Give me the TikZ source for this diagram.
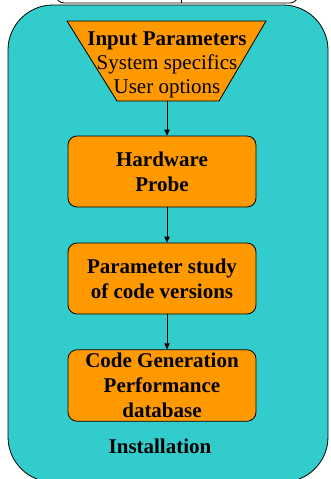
\documentclass[tikz,border=0pt]{standalone}
\usepackage{fontspec}
\setmainfont{Liberation Serif}
\usetikzlibrary{shapes.geometric,arrows.meta,positioning}
\definecolor{instcyan}{HTML}{33CCCC}
\definecolor{steporange}{HTML}{FF9900}
\tikzset{>={Triangle[length=6pt,width=5.5pt]}}

\begin{document}
\begin{tikzpicture}[x=1pt,y=-1pt,
                    stepbox/.style={draw=black, thick, fill=steporange, rounded corners=9pt,
                                    minimum width=188pt, minimum height=71pt,
                                    align=center, font=\fontsize{21}{25}\selectfont\bfseries},
                    flow/.style={thick, ->},
                   ]

\useasboundingbox (0,0) rectangle (330,479);

% box above, cut off by the page
\begin{scope}
\clip (0,0) rectangle (330,479);
\draw[thick, fill=white, rounded corners=8pt] (56,-30) rectangle (298,3);
\draw[thick] (181,-10) -- (181,3);
\end{scope}

% installation frame
\draw[thick, fill=instcyan, rounded corners=45pt] (8,5) rectangle (328,482);

% input parameters
\draw[thick, fill=steporange] (67,21) -- (266,21) -- (219,101) -- (117,101) -- cycle;
\node (input) at (167,65) [align=center, font=\fontsize{21}{24}\selectfont]
      {\textbf{Input Parameters}\\System specifics\\User options};
\coordinate (inputbot) at (167,101);

\node[stepbox] (probe) at (162,171.5) {Hardware\\Probe};
\node[stepbox] (study) at (162,278.5) {Parameter study\\of code versions};
\node[stepbox] (codegen) at (162,385.5) {Code Generation\\Performance\\database};

\node (install) at (160,446) [font=\fontsize{21}{25}\selectfont\bfseries] {Installation};

\draw[flow] (inputbot) -- (inputbot |- probe.north);
\draw[flow] (probe.south -| inputbot) -- (inputbot |- study.north);
\draw[flow] (study.south -| inputbot) -- (inputbot |- codegen.north);

\end{tikzpicture}
\end{document}
